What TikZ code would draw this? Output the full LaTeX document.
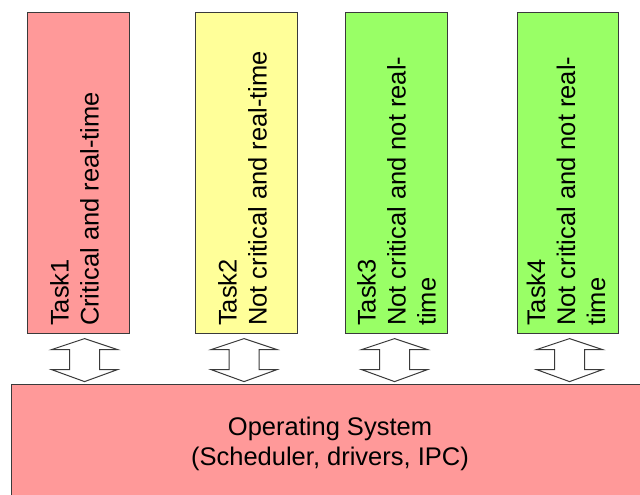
\documentclass[tikz,border=0pt]{standalone}
\usepackage{fontspec}
\setmainfont{Liberation Sans}
\usetikzlibrary{calc}
\definecolor{critred}{HTML}{FF9999}
\definecolor{softyellow}{HTML}{FFFF99}
\definecolor{softgreen}{HTML}{99FF66}
\definecolor{edgegray}{HTML}{3A3A3A}
\tikzset{
  taskbox/.style={draw=edgegray, line width=1.1pt, rectangle, inner sep=0pt,
    minimum width=102pt, minimum height=321pt, anchor=north west},
  tasktext/.style={rotate=90, anchor=west, align=left, inner sep=0pt,
    font=\fontsize{25.5}{30}\selectfont},
  osbox/.style={draw=edgegray, line width=1.3pt, fill=critred, rectangle,
    inner sep=0pt, minimum width=660pt, minimum height=140pt, anchor=north west},
  ostext/.style={align=center, inner sep=0pt, font=\fontsize{25.5}{30}\selectfont},
  arrowline/.style={draw=edgegray, line width=1pt, fill=white, line join=miter},
  dblarrow/.pic={
    \path[arrowline] (0,0) -- (33,11) -- (15,11) -- (15,31) -- (33,31) -- (0,43)
      -- (-33,31) -- (-15,31) -- (-15,11) -- (-33,11) -- cycle;
  }
}
\begin{document}
\begin{tikzpicture}[x=1pt, y=-1pt]
  \useasboundingbox (0,0) rectangle (640,495);
  \clip (0,0) rectangle (640,495);
  \fill[white] (0,0) rectangle (640,495);

  % task boxes
  \node[taskbox, fill=critred]    (t1) at (27,12)  {};
  \node[taskbox, fill=softyellow] (t2) at (195,12) {};
  \node[taskbox, fill=softgreen]  (t3) at (345,12) {};
  \node[taskbox, fill=softgreen, minimum width=101pt] (t4) at (517,12) {};

  % task labels, set bottom to top
  \node[tasktext] (l1) at ($(t1.south)+(-4,-8)$) {Task1\\Critical and real-time};
  \node[tasktext] (l2) at ($(t2.south)+(-4,-8)$) {Task2\\Not critical and real-time};
  \node[tasktext] (l3) at ($(t3.south)+(0,-8)$)  {Task3\\Not critical and not real-\\time};
  \node[tasktext] (l4) at ($(t4.south)+(-2,-8)$) {Task4\\Not critical and not real-\\time};

  % operating system layer
  \node[osbox] (os) at (10.5,383.5) {};
  \node[ostext] (ost) at (330,443.5) {Operating System\\(Scheduler, drivers, IPC)};

  % two-way block arrows between tasks and the OS
  \pic at ($(t1.south)+(6,4.5)$)    {dblarrow};
  \pic at ($(t2.south)+(-2.5,4.5)$) {dblarrow};
  \pic at ($(t3.south)+(-2,4.5)$)   {dblarrow};
  \pic at ($(t4.south)+(1.5,4.5)$)  {dblarrow};
\end{tikzpicture}
\end{document}
